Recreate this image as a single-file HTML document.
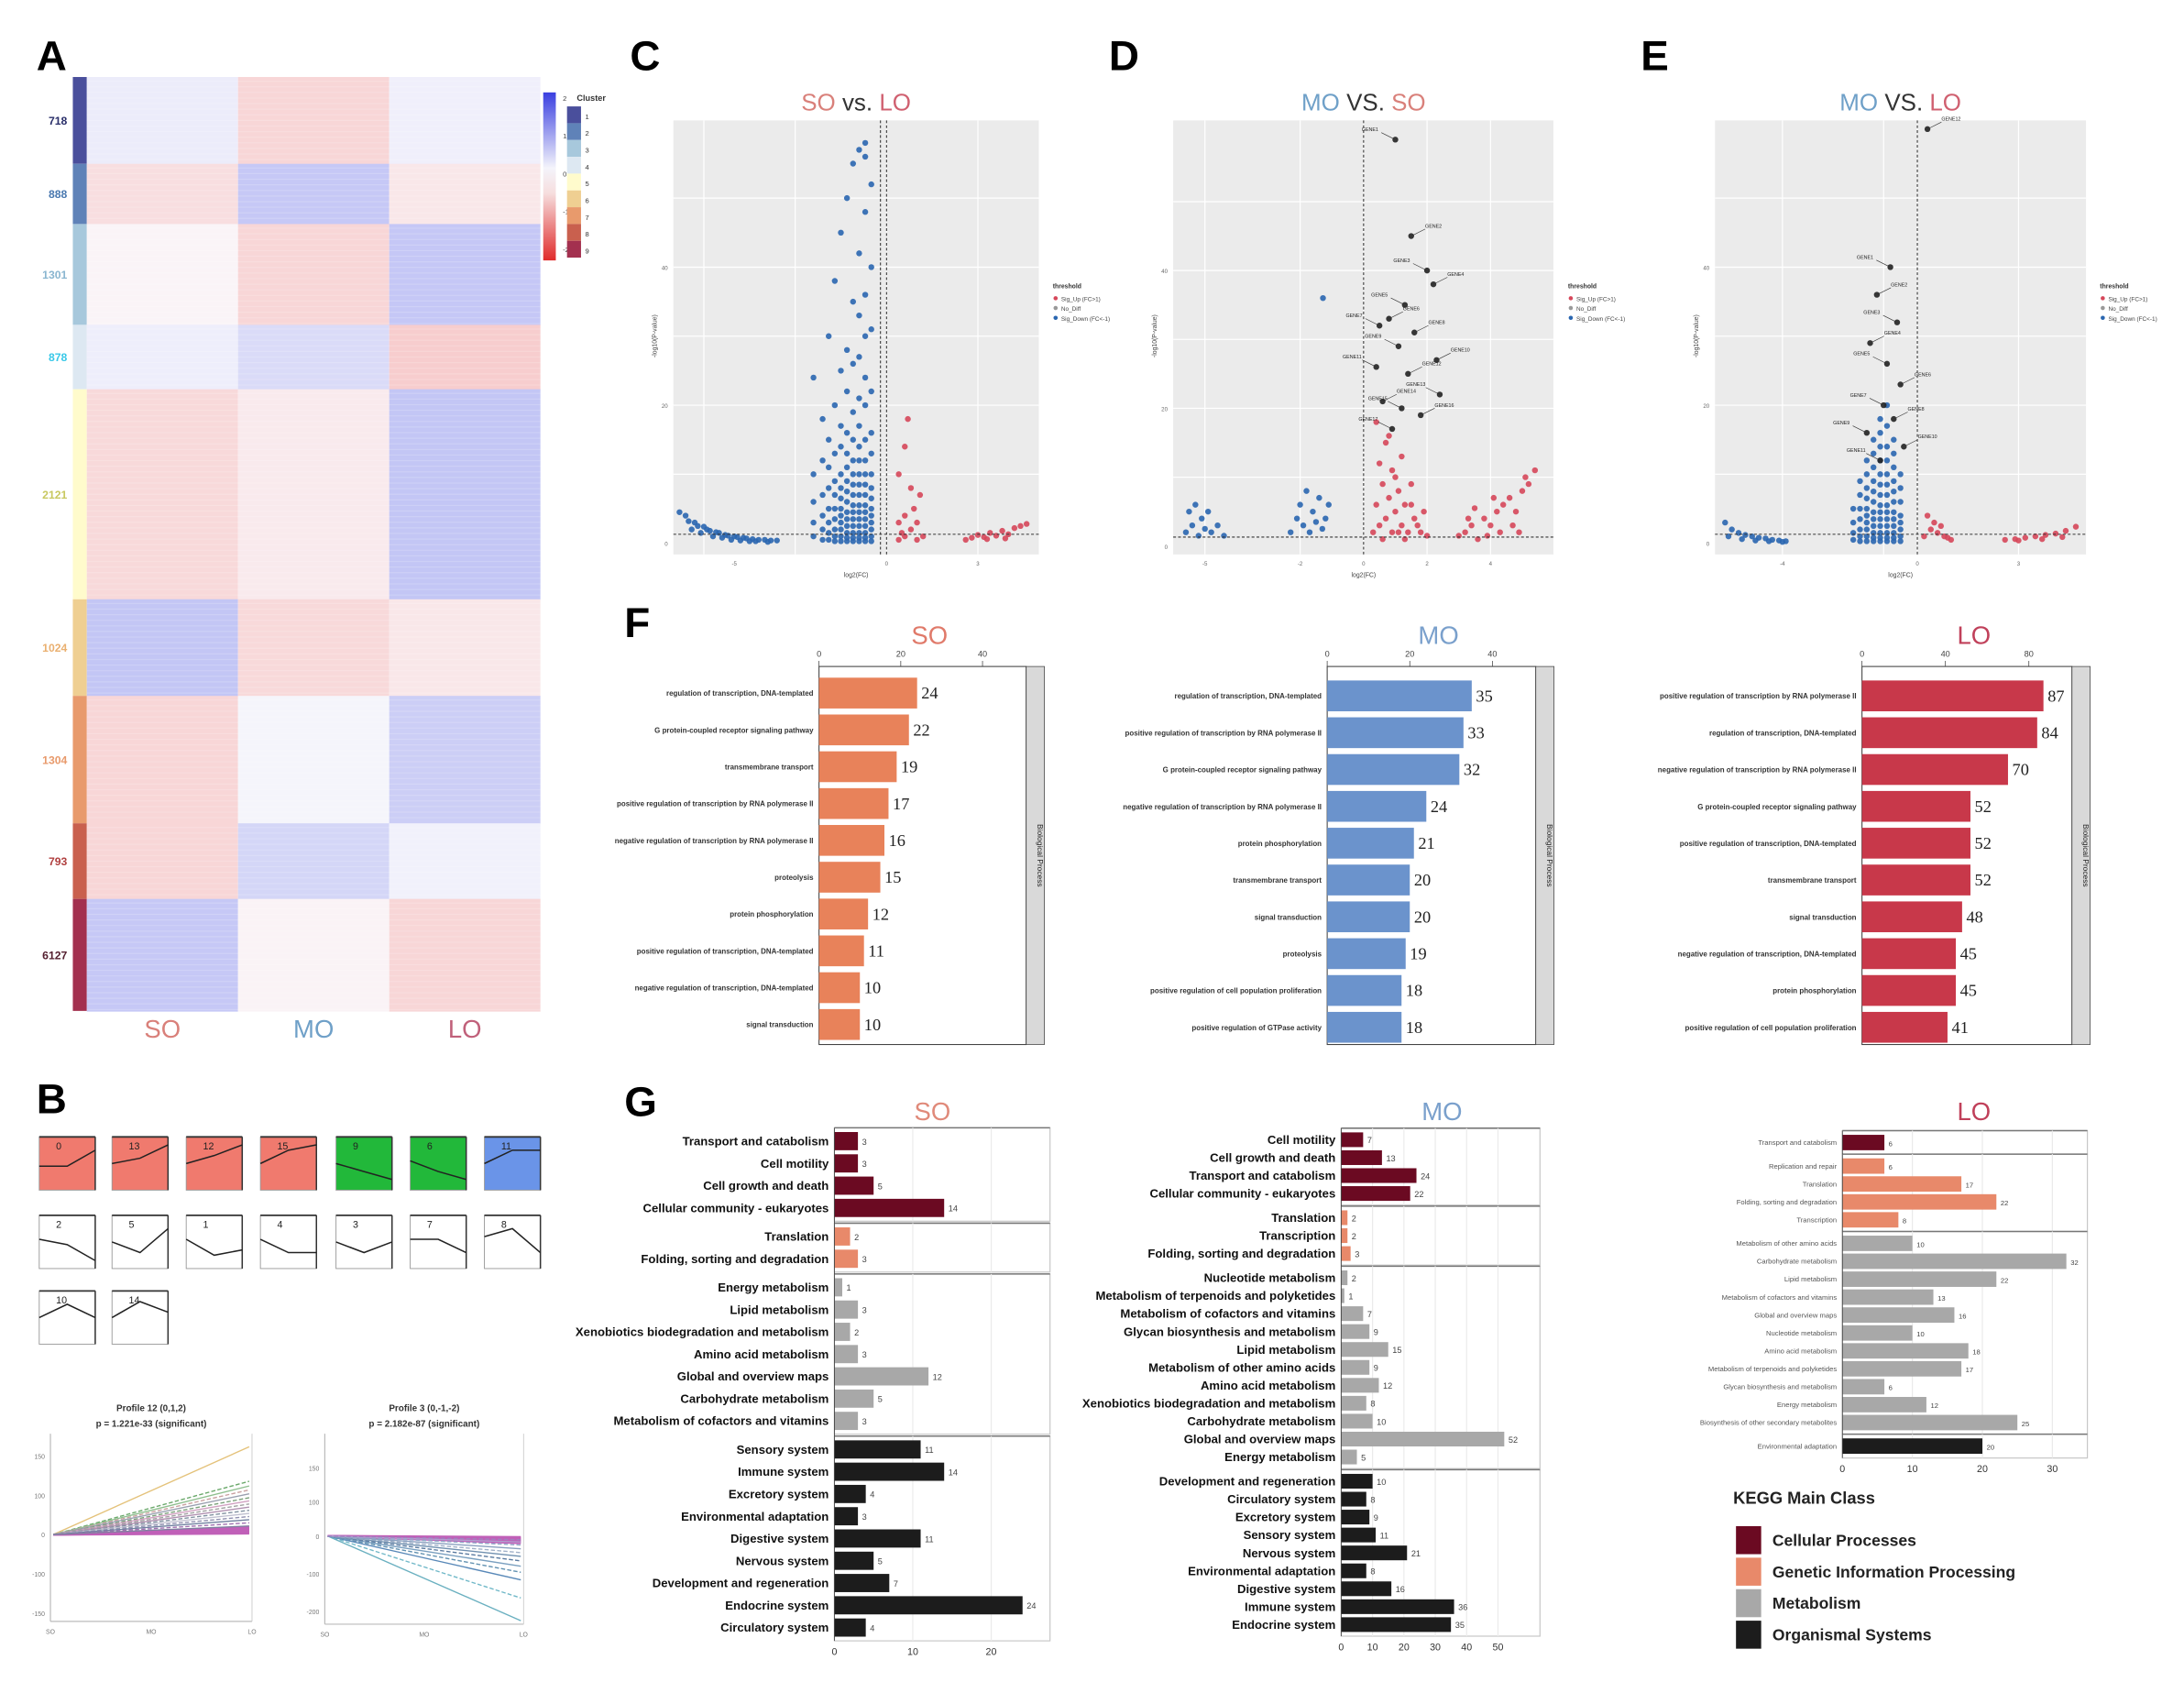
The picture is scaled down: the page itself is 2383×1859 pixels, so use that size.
<!DOCTYPE html>
<html><head><meta charset="utf-8"><title>Figure</title>
<style>
html,body{margin:0;padding:0;background:#fff;}
svg{display:block;font-family:"Liberation Sans",Arial,sans-serif;}
</style></head>
<body>
<svg id="fig" xmlns="http://www.w3.org/2000/svg" viewBox="0 0 1560 1217" width="2383" height="1859">
<rect x="0" y="0" width="1560" height="1217" fill="#fff"/>
<text x="26" y="50" font-size="30" font-weight="bold">A</text>
<text x="26" y="795" font-size="30" font-weight="bold">B</text>
<text x="450" y="50" font-size="30" font-weight="bold">C</text>
<text x="792" y="50" font-size="30" font-weight="bold">D</text>
<text x="1172" y="50" font-size="30" font-weight="bold">E</text>
<text x="446" y="455" font-size="30" font-weight="bold">F</text>
<text x="446" y="797" font-size="30" font-weight="bold">G</text>
</svg>
<script>
const NS='http://www.w3.org/2000/svg';
const svg=document.getElementById('fig');
function mk(tag,attrs,name,parent){
  const e=document.createElementNS(NS,tag);
  for(const k in attrs)e.setAttribute(k,attrs[k]);
  
  
  (parent||svg).appendChild(e);return e;}
function tx(x,y,s,attrs,name,parent){const t=mk('text',Object.assign({x:x,y:y},attrs||{}),name,parent);t.textContent=s;return t;}

/* ---------- Panel A heatmap data ---------- */
const hmClusters=['718','888','1301','878','2121','1024','1304','793','6127'];
const hmSO=[0.25,-0.45,-0.08,0.2,-0.55,0.95,-0.6,-0.6,0.9];
const hmMO=[-0.6,0.9,-0.6,0.55,-0.25,-0.55,0.08,0.65,-0.1];
const hmLO=[0.18,-0.3,0.92,-0.75,0.95,-0.3,0.8,0.15,-0.6];
const hmRowH=[62,43,72,46,150,69,91,54,80];
const clColors=['#4a4f9c','#5f82b8','#a7c8dc','#dde8f2','#fffbcc','#efcf92','#e89a6c','#c9604e','#a3304f'];
const clLabelColors=['#2a2f6a','#4a79b0','#8ab6d0','#38c8e8','#c8c860','#eab070','#e89a6c','#b04040','#552030'];
function hmColor(v){
  const a=Math.min(1,Math.abs(v));
  const w=[250,249,252];
  const c=v>=0?[192,195,245]:[246,190,190];
  return 'rgb('+w.map((q,i)=>Math.round(q+(c[i]-q)*a)).join(',')+')';}
(function(){
  const cols=[hmSO,hmMO,hmLO];const colX=[62,170,278];const cw=108;
  let y=55;
  hmClusters.forEach((c,i)=>{
    const h=hmRowH[i];
    mk('rect',{x:52,y:y,width:10,height:h,fill:clColors[i]},'cluster-bar-'+c);
    cols.forEach((col,j)=>{
      mk('rect',{x:colX[j],y:y,width:cw,height:h+0.5,fill:hmColor(col[i])},'heatmap-cell');
    });
    for(let k=y+3;k<y+h;k+=4){
      mk('line',{x1:62,x2:386,y1:k,y2:k,stroke:'#fff',"stroke-opacity":0.18,"stroke-width":0.8},'heatmap-stripe');
    }
    tx(48,y+h/2+3,c,{"font-size":8,"font-weight":"bold",fill:clLabelColors[i],"text-anchor":"end"},'cluster-size-label');
    y+=h;
  });
  const names=['SO','MO','LO'],nc=['#d9807a','#6fa0c8','#c0607a'];
  names.forEach((n,j)=>tx(colX[j]+54,741,n,{"font-size":18,fill:nc[j],"text-anchor":"middle"},'heatmap-column-'+n));
  const defs=mk('defs',{},'defs');
  const lg=mk('linearGradient',{id:'cbg',x1:0,y1:0,x2:0,y2:1},'colorbar-gradient',defs);
  [['0','#3a3fe0'],['0.45','#f4f4fb'],['0.6','#f6dede'],['1','#e02a2a']].forEach(s=>mk('stop',{offset:s[0],"stop-color":s[1]},'gradient-stop',lg));
  mk('rect',{x:388,y:66,width:9,height:120,fill:'url(#cbg)'},'colorbar');
  ['2','1','0','-1','-2'].forEach((t,i)=>tx(402,72+i*27,t,{"font-size":5,fill:'#444'},'colorbar-tick'));
  tx(412,72,'Cluster',{"font-size":6,"font-weight":"bold",fill:'#333'},'cluster-legend-title');
  clColors.forEach((c,i)=>{mk('rect',{x:405,y:76+i*12,width:10,height:12,fill:c},'cluster-legend-swatch');
    tx(418,85+i*12,String(i+1),{"font-size":5,fill:'#333'},'cluster-legend-label');});
})();

/* ---------- Panel B profiles ---------- */
const profIds=['0','13','12','15','9','6','11','2','5','1','4','3','7','8','10','14'];
const profA=[0.45,0.5,0.5,0.5,0.5,0.55,0.5,0.55,0.5,0.55,0.55,0.5,0.55,0.6,0.5,0.5];
const profB=[0.45,0.6,0.65,0.75,0.35,0.35,0.75,0.45,0.3,0.25,0.3,0.3,0.55,0.75,0.75,0.8];
const profC=[0.75,0.85,0.85,0.85,0.2,0.2,0.75,0.15,0.75,0.35,0.3,0.5,0.3,0.3,0.5,0.6];
const profFill=['#f07a6e','#f07a6e','#f07a6e','#f07a6e','#22b83a','#22b83a','#6a94e8','#fff','#fff','#fff','#fff','#fff','#fff','#fff','#fff','#fff'];
(function(){
  const xs=[28,80,133,186,240,293,346];const ys=[812,868,922];const w=40,h=38;
  profIds.forEach((id,i)=>{
    const r=Math.floor(i/7),c=i%7;const x=xs[c],y=ys[r];
    mk('rect',{x:x,y:y,width:w,height:h,fill:profFill[i],stroke:'#999',"stroke-width":0.6},'profile-box-'+id);
    mk('line',{x1:x,x2:x+w,y1:y,y2:y,stroke:'#333',"stroke-width":1.2},'profile-box-top');
    mk('line',{x1:x+w,x2:x+w,y1:y,y2:y+h,stroke:'#333',"stroke-width":1},'profile-box-right');
    const py=v=>y+h-v*h;
    mk('polyline',{points:[x,py(profA[i]),x+w/2,py(profB[i]),x+w,py(profC[i])].join(' '),fill:'none',stroke:'#222',"stroke-width":1},'profile-line-'+id);
    tx(x+12,y+9,id,{"font-size":7,fill:'#222'},'profile-id');
  });
})();
const p12Ends=[112,68,62,57,52,47,43,39,35,31,27,23,19,15,11];
const p12Colors=['#e4c27a','#6aa86a','#8fbf8f','#c9a0a0','#9aa0b0','#7aa07a','#d0a0c0','#a0a0a0','#b090b0','#8090a0','#c0c0d0','#9090b0','#7080a0','#a070b0','#8080a0'];
const p3Ends=[-112,-82,-58,-48,-40,-33,-27,-22,-17,-12,-8,-5];
const p3Colors=['#6ab0c0','#70b8c8','#5888b8','#6090b0','#7aa0c0','#5a7aa0','#7090b0','#a0b0c8','#8aa0c0','#90a8c8','#b0a0d0','#a080c0'];
function profPlot(ends,colors,x0,x1,yTop,yBot,zeroY,ppu,title1,title2,ticks,tickLab,nm){
  mk('line',{x1:x0,x2:x0,y1:yTop,y2:yBot,stroke:'#bbb',"stroke-width":0.8},nm+'-y-axis');
  mk('line',{x1:x0,x2:x1,y1:yBot,y2:yBot,stroke:'#bbb',"stroke-width":0.8},nm+'-x-axis');
  mk('line',{x1:x1,x2:x1,y1:yTop,y2:yBot,stroke:'#ccc',"stroke-width":0.6},nm+'-right-border');
  tx((x0+x1)/2,1008,title1,{"font-size":6.5,"text-anchor":"middle",fill:'#333',"font-weight":"bold"},nm+'-title');
  tx((x0+x1)/2,1019,title2,{"font-size":6.5,"text-anchor":"middle",fill:'#333',"font-weight":"bold"},nm+'-subtitle');
  ticks.forEach((t,i)=>tx(x0-4,zeroY-t*ppu+2,tickLab[i],{"font-size":4.5,"text-anchor":"end",fill:'#777'},nm+'-y-tick'));
  ['SO','MO','LO'].forEach((s,i)=>tx(x0+(x1-x0)*i/2,yBot+9,s,{"font-size":4.5,"text-anchor":"middle",fill:'#777'},nm+'-x-tick'));
  const sgn=ends[0]>0?1:-1;
  for(let k=0;k<7;k++){const e=sgn*(1.5+k*1.3);
    mk('line',{x1:x0+2,y1:zeroY,x2:x1-2,y2:zeroY-e*ppu,stroke:'#c060b8',"stroke-width":1.6},nm+'-band-line');}
  ends.forEach((e,i)=>{
    mk('polyline',{points:[x0+2,zeroY,(x0+x1)/2,zeroY-e/2*ppu,x1-2,zeroY-e*ppu].join(' '),fill:'none',stroke:colors[i],"stroke-width":0.9,"stroke-dasharray":i%2?'3 1.5':'none'},nm+'-gene-line');
  });
}
profPlot(p12Ends,p12Colors,36,180,1024,1158,1096,0.56,'Profile 12 (0,1,2)','p = 1.221e-33 (significant)',[100,50,0,-50,-100],['150','100','0','-100','-150'],'profile12');
profPlot(p3Ends,p3Colors,232,374,1024,1160,1097,0.54,'Profile 3 (0,-1,-2)','p = 2.182e-87 (significant)',[90,45,0,-50,-100],['150','100','0','-100','-200'],'profile3');

/* ---------- Volcano plots ---------- */
const cDownFC=[-6.8,-6.6,-6.5,-6.4,-6.3,-6.2,-6.1,-6.0,-5.9,-5.8,-5.7,-5.6,-5.5,-5.4,-5.3,-5.2,-5.1,-5.0,-4.9,-4.8,-4.7,-4.6,-4.5,-4.4,-4.3,-4.2,-4.0,-3.9,-3.8,-3.6];
const cDownP=[4.5,4.0,3.2,2.0,3.0,2.5,1.5,2.4,2.0,1.8,1.0,1.6,1.5,0.8,1.2,1.1,0.5,1.0,0.9,0.4,0.8,0.7,0.3,0.6,0.3,0.5,0.5,0.2,0.4,0.4];
const cMidFC=[-2.4,-2.1,-1.9,-1.7,-1.5,-1.3,-1.1,-0.9,-0.7,-0.5];
const cMidP=[[1,3,6,10,24],[0.5,2,4,7,12,18],[0.5,1.5,3,5,8,11,15,30],[0.3,1,2,3.5,5,7,9,13,20,38],[0.3,1,2,3,4,5,6.5,8,10,14,17,25,45],[0.3,0.8,1.5,2.5,3.5,4.5,6,7.5,9,11,13,16,22,28,50],[0.3,0.8,1.5,2.5,3.5,4.5,5.5,7,8.5,10,12,15,19,26,35,55],[0.3,0.8,1.5,2.5,3.5,4.5,5.5,7,8.5,10,12,14,17,21,27,33,42,57],[0.3,0.8,1.5,2.5,3.5,4.5,5.5,7,8.5,10,12,15,20,24,30,36,48,56,58],[0.3,1,2,3,4,5,6.5,8,10,13,16,22,31,40,52]];
const cUpFC=[0.4,0.4,0.4,0.5,0.6,0.6,0.6,0.7,0.8,0.8,0.9,1.0,1.0,1.1,1.2,2.6,2.8,3.0,3.2,3.4,3.6,3.8,4.0,4.2,4.4,4.6,3.3,3.9];
const cUpP=[0.5,3,10,1.5,1,4,14,18,2,8,5,0.5,3,7,1,0.5,0.8,1.2,0.9,1.5,1.1,1.8,1.3,2.2,2.5,2.8,0.6,0.7];
const dDownFC=[-5.6,-5.5,-5.4,-5.3,-5.2,-5.1,-5.0,-4.9,-4.8,-4.6,-4.4,-2.3,-2.1,-2.0,-1.9,-1.8,-1.7,-1.6,-1.5,-1.4,-1.3,-1.2,-1.1,-1.28];
const dDownP=[2,5,3,6,1.5,4,2.5,5,2,3,1.5,2,4,6,3,8,2,5,3.5,7,2.5,4,6,36];
const dUpFC=[0.3,0.4,0.5,0.5,0.6,0.7,0.7,0.8,0.9,0.9,1.0,1.1,1.2,1.2,1.3,1.4,1.5,1.6,1.7,1.8,1.9,2.0,0.4,0.6,0.8,1.0,1.1,1.3,1.5,3.0,3.2,3.4,3.6,3.8,4.0,4.2,4.4,4.6,4.8,5.0,5.2,5.4,3.5,3.9,4.3,4.7,5.1,3.3,4.1,4.9];
const dUpP=[2,6,12,3,9,15,4,7,11,2,5,8,3,13,6,2,9,4,3,2,5,1.5,18,1,16,10,2,1,6,1.5,2,3,1,4,3,5,6,7,5,8,9,11,5.5,1.5,2,3,10,4,7,2];
const dLabFC=[1.0,1.5,2.0,2.2,1.3,0.8,0.5,1.6,1.1,2.3,0.4,1.4,2.4,0.6,1.2,1.8,0.9];
const dLabP=[59,45,40,38,35,33,32,31,29,27,26,25,22,21,20,19,17];
const eDownFC=[-5.7,-5.5,-5.3,-5.1,-4.9,-4.7,-4.5,-4.3,-4.1,-3.9,-5.6,-5.2,-4.8,-4.4,-4.0];
const eDownP=[3,2,1.5,1.2,1,0.8,0.7,0.5,0.4,0.3,1,0.6,0.4,0.3,0.2];
const eMidFC=[-1.9,-1.7,-1.5,-1.3,-1.1,-0.9,-0.7,-0.5];
const eMidP=[[0.5,1.5,3,5],[0.3,1,2,3.5,5,7,9],[0.3,1,2,3,4,5,6.5,8,10,12],[0.3,0.8,1.5,2.5,3.5,4.5,6,7.5,9,11,13,15],[0.3,0.8,1.5,2.5,3.5,4.5,5.5,7,8.5,10,12,14,16,18],[0.3,0.8,1.5,2.5,3.5,4.5,5.5,7,8.5,10,12,14,17,20],[0.3,0.8,1.5,2.5,3.5,4.5,6,7.5,9,11,13,15],[0.3,1,2,3,4,6,8,10]];
const eUpFC=[0.2,0.3,0.4,0.5,0.6,0.7,0.8,0.9,1.0,2.6,2.9,3.2,3.5,3.8,4.1,4.4,4.7,3.0,3.7,4.3];
const eUpP=[1,4,2,3,1.5,2.5,1,0.8,0.5,0.5,0.6,0.8,1,1.2,1.4,1.8,2.4,0.4,0.6,0.9];
const eLabFC=[-0.8,-1.2,-0.6,-1.4,-0.9,-0.5,-1.0,-0.7,-1.5,-0.4,-1.1,0.3];
const eLabP=[40,36,32,29,26,23,20,18,16,14,12,60];

function volcano(o){
  const sx=v=>o.px0+(v-o.xmin)*(o.px1-o.px0)/(o.xmax-o.xmin);
  const sy=v=>o.zeroY-v*o.ppy;
  const g=mk('g',{},o.nm);
  mk('rect',{x:o.px0,y:86,width:o.px1-o.px0,height:310,fill:'#ebebeb'},'plot-background',g);
  o.grid.forEach(v=>mk('line',{x1:sx(v),x2:sx(v),y1:86,y2:396,stroke:'#fff',"stroke-width":0.8},'grid-line',g));
  [10,20,30,40,50].forEach(v=>mk('line',{x1:o.px0,x2:o.px1,y1:sy(v),y2:sy(v),stroke:'#fff',"stroke-width":0.8},'grid-line',g));
  const pt=(x,y,c,name)=>mk('circle',{cx:sx(x),cy:sy(y),r:2.1,fill:c,"fill-opacity":0.9},name,g);
  o.down.forEach(([fx,fp])=>fx.forEach((v,i)=>pt(v,fp[i],'#2a66b0','down-point')));
  (o.mid||[]).forEach(([fx,fp])=>fx.forEach((v,i)=>fp[i].forEach(p=>pt(v,p,'#2a66b0','down-point'))));
  o.up.forEach(([fx,fp])=>fx.forEach((v,i)=>pt(v,fp[i],'#d6475a','up-point')));
  if(o.lab){o.lab[0].forEach((v,i)=>{const p=o.lab[1][i];pt(v,p,'#222','labelled-point');
    mk('line',{x1:sx(v),y1:sy(p),x2:sx(v)+(i%2?10:-10),y2:sy(p)-5,stroke:'#333',"stroke-width":0.4},'label-leader',g);
    tx(sx(v)+(i%2?10:-24),sy(p)-6,'GENE'+(i+1),{"font-size":3.5,fill:'#222'},'gene-label',g);});}
  o.vlines.forEach(v=>mk('line',{x1:sx(v),x2:sx(v),y1:86,y2:396,stroke:'#333',"stroke-width":0.7,"stroke-dasharray":'2 1.5'},'threshold-vline',g));
  mk('line',{x1:o.px0,x2:o.px1,y1:sy(1.3),y2:sy(1.3),stroke:'#333',"stroke-width":0.7,"stroke-dasharray":'2 1.5'},'threshold-hline',g);
  o.xt.forEach(v=>tx(sx(v),404,String(v),{"font-size":4,"text-anchor":"middle",fill:'#666'},'x-tick',g));
  [0,20,40].forEach(v=>tx(o.px0-4,sy(v)+2,String(v),{"font-size":4,"text-anchor":"end",fill:'#666'},'y-tick',g));
  tx((o.px0+o.px1)/2,412,'log2(FC)',{"font-size":4.5,"text-anchor":"middle",fill:'#444'},'x-axis-title',g);
  tx(0,0,'-log10(P-value)',{"font-size":4.5,"text-anchor":"middle",fill:'#444',transform:'translate('+(o.px0-12)+',240) rotate(-90)'},'y-axis-title',g);
  const t=tx((o.px0+o.px1)/2,79,'',{"font-size":17,"text-anchor":"middle"},'volcano-title',g);
  o.title.forEach(([s,c])=>{const ts=mk('tspan',{fill:c},'title-part',t);ts.textContent=s;});
  const lx=o.px1+10;
  tx(lx,206,'threshold',{"font-size":4.5,"font-weight":"bold",fill:'#333'},'legend-title',g);
  [['Sig_Up (FC>1)','#d6475a'],['No_Diff','#999'],['Sig_Down (FC<-1)','#2a66b0']].forEach(([s,c],i)=>{
    mk('circle',{cx:lx+2,cy:213+i*7,r:1.5,fill:c},'legend-dot',g);
    tx(lx+6,215+i*7,s,{"font-size":4.2,fill:'#444'},'legend-entry',g);});
}
volcano({nm:'volcano-so-vs-lo',px0:481,px1:742,xmin:-7,xmax:5,zeroY:388,ppy:4.93,grid:[-6,-3,0,3],vlines:[-0.2,0],xt:[-5,0,3],
  down:[[cDownFC,cDownP]],mid:[[cMidFC,cMidP]],up:[[cUpFC,cUpP]],title:[['SO','#d9807a'],[' vs. ','#333'],['LO','#d06070']]});
volcano({nm:'volcano-mo-vs-so',px0:838,px1:1110,xmin:-6,xmax:6,zeroY:390,ppy:4.92,grid:[-5,-2,0,2,4,6],vlines:[0],xt:[-5,-2,0,2,4],
  down:[[dDownFC,dDownP]],up:[[dUpFC,dUpP]],lab:[dLabFC,dLabP],title:[['MO','#6fa0c8'],[' VS. ','#333'],['SO','#d9807a']]});
volcano({nm:'volcano-mo-vs-lo',px0:1225,px1:1490,xmin:-6,xmax:5,zeroY:388,ppy:4.93,grid:[-4,-1,0,3],vlines:[0],xt:[-4,0,3],
  down:[[eDownFC,eDownP]],mid:[[eMidFC,eMidP]],up:[[eUpFC,eUpP]],lab:[eLabFC,eLabP],title:[['MO','#6fa0c8'],[' VS. ','#333'],['LO','#d06070']]});

/* ---------- Panel F GO bars ---------- */
const fSoTerms=['regulation of transcription, DNA-templated','G protein-coupled receptor signaling pathway','transmembrane transport','positive regulation of transcription by RNA polymerase II','negative regulation of transcription by RNA polymerase II','proteolysis','protein phosphorylation','positive regulation of transcription, DNA-templated','negative regulation of transcription, DNA-templated','signal transduction'];
const fSoVals=[24,22,19,17,16,15,12,11,10,10];
const fMoTerms=['regulation of transcription, DNA-templated','positive regulation of transcription by RNA polymerase II','G protein-coupled receptor signaling pathway','negative regulation of transcription by RNA polymerase II','protein phosphorylation','transmembrane transport','signal transduction','proteolysis','positive regulation of cell population proliferation','positive regulation of GTPase activity'];
const fMoVals=[35,33,32,24,21,20,20,19,18,18];
const fLoTerms=['positive regulation of transcription by RNA polymerase II','regulation of transcription, DNA-templated','negative regulation of transcription by RNA polymerase II','G protein-coupled receptor signaling pathway','positive regulation of transcription, DNA-templated','transmembrane transport','signal transduction','negative regulation of transcription, DNA-templated','protein phosphorylation','positive regulation of cell population proliferation'];
const fLoVals=[87,84,70,52,52,52,48,45,45,41];
const fSoTicks=[0,20,40],fMoTicks=[0,20,40],fLoTicks=[0,40,80];
function goBars(o){
  const g=mk('g',{},o.nm);
  mk('rect',{x:o.x0,y:476,width:o.xr-o.x0,height:270,fill:'#fff',stroke:'#444',"stroke-width":0.7},'plot-frame',g);
  mk('rect',{x:o.xr,y:476,width:13,height:270,fill:'#d9d9d9',stroke:'#444',"stroke-width":0.5},'facet-strip',g);
  tx(0,0,'Biological Process',{"font-size":5.5,"text-anchor":"middle",fill:'#222',transform:'translate('+(o.xr+8)+',611) rotate(90)'},'facet-strip-label',g);
  o.ticks.forEach(t=>{tx(o.x0+t*o.ppu,469,String(t),{"font-size":6,"text-anchor":"middle",fill:'#444'},'x-tick',g);
    mk('line',{x1:o.x0+t*o.ppu,x2:o.x0+t*o.ppu,y1:472,y2:476,stroke:'#444',"stroke-width":0.5},'x-tick-mark',g);});
  tx(o.x0+(o.xr-o.x0)/2+5,460,o.title,{"font-size":18,"text-anchor":"middle",fill:o.tc},'go-title',g);
  o.terms.forEach((t,i)=>{const y=o.y0+i*26.3;
    mk('rect',{x:o.x0,y:y-11,width:o.vals[i]*o.ppu,height:22,fill:o.color},'go-bar',g);
    tx(o.x0+o.vals[i]*o.ppu+3,y+4,String(o.vals[i]),{"font-size":12,fill:'#222',"font-family":'"Liberation Serif",serif'},'go-bar-value',g);
    tx(o.x0-4,y+2,t,{"font-size":5.2,"text-anchor":"end",fill:'#333',"font-weight":"bold"},'go-term-label',g);});
}
goBars({nm:'go-so',terms:fSoTerms,vals:fSoVals,ticks:fSoTicks,x0:585,xr:733,ppu:2.92,y0:495,color:'#e8825a',title:'SO',tc:'#e07a6a'});
goBars({nm:'go-mo',terms:fMoTerms,vals:fMoVals,ticks:fMoTicks,x0:948,xr:1097,ppu:2.95,y0:497,color:'#6b93cc',title:'MO',tc:'#7aa0cc'});
goBars({nm:'go-lo',terms:fLoTerms,vals:fLoVals,ticks:fLoTicks,x0:1330,xr:1480,ppu:1.49,y0:497,color:'#c8384a',title:'LO',tc:'#c0405a'});

/* ---------- Panel G KEGG ---------- */
const gSoCats=['Transport and catabolism','Cell motility','Cell growth and death','Cellular community - eukaryotes','Translation','Folding, sorting and degradation','Energy metabolism','Lipid metabolism','Xenobiotics biodegradation and metabolism','Amino acid metabolism','Global and overview maps','Carbohydrate metabolism','Metabolism of cofactors and vitamins','Sensory system','Immune system','Excretory system','Environmental adaptation','Digestive system','Nervous system','Development and regeneration','Endocrine system','Circulatory system'];
const gSoVals=[3,3,5,14,2,3,1,3,2,3,12,5,3,11,14,4,3,11,5,7,24,4];
const gSoGrp=[0,0,0,0,1,1,2,2,2,2,2,2,2,3,3,3,3,3,3,3,3,3];
const gMoCats=['Cell motility','Cell growth and death','Transport and catabolism','Cellular community - eukaryotes','Translation','Transcription','Folding, sorting and degradation','Nucleotide metabolism','Metabolism of terpenoids and polyketides','Metabolism of cofactors and vitamins','Glycan biosynthesis and metabolism','Lipid metabolism','Metabolism of other amino acids','Amino acid metabolism','Xenobiotics biodegradation and metabolism','Carbohydrate metabolism','Global and overview maps','Energy metabolism','Development and regeneration','Circulatory system','Excretory system','Sensory system','Nervous system','Environmental adaptation','Digestive system','Immune system','Endocrine system'];
const gMoVals=[7,13,24,22,2,2,3,2,1,7,9,15,9,12,8,10,52,5,10,8,9,11,21,8,16,36,35];
const gMoGrp=[0,0,0,0,1,1,1,2,2,2,2,2,2,2,2,2,2,2,3,3,3,3,3,3,3,3,3];
const gLoCats=['Transport and catabolism','Replication and repair','Translation','Folding, sorting and degradation','Transcription','Metabolism of other amino acids','Carbohydrate metabolism','Lipid metabolism','Metabolism of cofactors and vitamins','Global and overview maps','Nucleotide metabolism','Amino acid metabolism','Metabolism of terpenoids and polyketides','Glycan biosynthesis and metabolism','Energy metabolism','Biosynthesis of other secondary metabolites','Environmental adaptation'];
const gLoVals=[6,6,17,22,8,10,32,22,13,16,10,18,17,6,12,25,20];
const gLoGrp=[0,1,1,1,1,2,2,2,2,2,2,2,2,2,2,2,3];
const gSoTicks=[0,10,20],gMoTicks=[0,10,20,30,40,50],gLoTicks=[0,10,20,30];
const grpColors=['#6b0a22','#e8896a','#a8a8a8','#1c1c1c'];
function kegg(o){
  const g=mk('g',{},o.nm);
  const ys=[];let y=o.y0-o.step;let prev=-1;
  o.grp.forEach((gr,i)=>{y+=o.step;if(prev>=0&&gr!==prev)y+=o.gap;ys.push(y);prev=gr;});
  const ext={};o.grp.forEach((gr,i)=>{if(!ext[gr])ext[gr]=[ys[i],ys[i]];ext[gr][1]=ys[i];});
  Object.keys(ext).forEach(k=>{const [a,b]=ext[k];
    mk('rect',{x:o.x0,y:a-o.h/2-3,width:o.xr-o.x0,height:b-a+o.h+6,fill:'#fff',stroke:'#c8c8c8',"stroke-width":0.8},'facet-panel',g);
    mk('line',{x1:o.x0,x2:o.xr,y1:a-o.h/2-3,y2:a-o.h/2-3,stroke:'#777',"stroke-width":1},'facet-top',g);
    o.ticks.forEach(t=>mk('line',{x1:o.x0+t*o.ppu,x2:o.x0+t*o.ppu,y1:a-o.h/2-3,y2:b+o.h/2+3,stroke:'#ebebeb',"stroke-width":0.8},'grid-line',g));});
  o.cats.forEach((c,i)=>{
    mk('rect',{x:o.x0,y:ys[i]-o.h/2,width:Math.max(0.8,o.vals[i]*o.ppu),height:o.h,fill:grpColors[o.grp[i]]},'kegg-bar',g);
    tx(o.x0+o.vals[i]*o.ppu+3,ys[i]+2.5,String(o.vals[i]),{"font-size":o.vf,fill:'#444'},'kegg-bar-value',g);
    tx(o.x0-4,ys[i]+o.lf*0.35,c,{"font-size":o.lf,"text-anchor":"end",fill:o.lc,"font-weight":o.lw},'kegg-category-label',g);});
  const by=ys[ys.length-1]+o.h/2+3;
  mk('line',{x1:o.x0,x2:o.x0,y1:o.y0-o.h/2-3,y2:by,stroke:'#444',"stroke-width":0.6},'y-axis',g);
  o.ticks.forEach(t=>tx(o.x0+t*o.ppu,by+10,String(t),{"font-size":7,"text-anchor":"middle",fill:'#333'},'x-tick',g));
  tx(o.tx,800,o.title,{"font-size":18,"text-anchor":"middle",fill:o.tc},'kegg-title',g);
}
kegg({nm:'kegg-so',cats:gSoCats,vals:gSoVals,grp:gSoGrp,ticks:gSoTicks,x0:596,xr:750,ppu:5.6,y0:815,step:15.9,gap:4.5,h:13,lf:8.6,lc:'#111',lw:'bold',vf:6,title:'SO',tx:666,tc:'#e08a7a'});
kegg({nm:'kegg-mo',cats:gMoCats,vals:gMoVals,grp:gMoGrp,ticks:gMoTicks,x0:958,xr:1100,ppu:2.24,y0:814,step:12.8,gap:4.5,h:10.5,lf:8.6,lc:'#111',lw:'bold',vf:6,title:'MO',tx:1030,tc:'#7aa0cc'});
kegg({nm:'kegg-lo',cats:gLoCats,vals:gLoVals,grp:gLoGrp,ticks:gLoTicks,x0:1316,xr:1491,ppu:5,y0:816,step:12.8,gap:4,h:11,lf:5,lc:'#555',lw:'normal',vf:5,title:'LO',tx:1410,tc:'#c0405a'});
(function(){
  tx(1238,1074,'KEGG Main Class',{"font-size":12,"font-weight":"bold",fill:'#222'},'legend-title');
  ['Cellular Processes','Genetic Information Processing','Metabolism','Organismal Systems'].forEach((s,i)=>{
    mk('rect',{x:1240,y:1090+i*22.5,width:18,height:20,fill:grpColors[i]},'legend-swatch-'+i);
    tx(1266,1104+i*22.5,s,{"font-size":11.5,fill:'#222',"font-weight":"bold"},'legend-entry');});
})();
</script>
</body></html>
